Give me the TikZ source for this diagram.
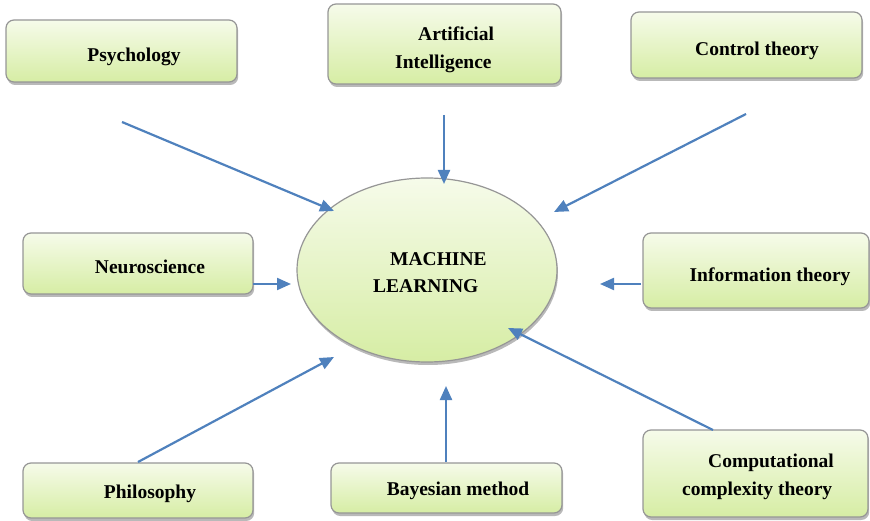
\documentclass[tikz,border=0pt]{standalone}
\usepackage{fontspec}
\setmainfont{Liberation Serif}
\usetikzlibrary{arrows.meta,shadows,shapes.geometric}
\definecolor{arrowblue}{RGB}{79,129,189}
\definecolor{boxtop}{RGB}{246,251,234}
\definecolor{boxbot}{RGB}{214,237,164}
\definecolor{boxline}{RGB}{150,150,150}
\begin{document}
\begin{tikzpicture}[x=1pt,y=-1pt,
  box/.style={draw=boxline, line width=1.2pt, rounded corners=8pt, inner sep=0pt,
    top color=boxtop, bottom color=boxbot,
    drop shadow={shadow xshift=1.2pt, shadow yshift=-3pt, fill=black!55}},
  mlshape/.style={ellipse, draw=boxline, line width=1.2pt, inner sep=0pt,
    top color=boxtop, bottom color=boxbot,
    drop shadow={shadow xshift=1pt, shadow yshift=-3pt, fill=black!55}},
  lbl/.style={font=\fontsize{19.5}{27.5}\selectfont\bfseries, align=left, inner sep=0pt},
  conn/.style={draw=arrowblue, line width=2.2pt, -{Triangle[length=14pt,width=12pt]}}]
\useasboundingbox (0,0) rectangle (870,521);
% boxes
\node[box, minimum width=231pt, minimum height=62pt] (psy) at (121.5,51) {};
\node[box, minimum width=233pt, minimum height=80pt] (ai) at (444.5,44) {};
\node[box, minimum width=231pt, minimum height=66pt] (ctl) at (746.5,45) {};
\node[box, minimum width=230pt, minimum height=61pt] (neu) at (138,263.5) {};
\node[box, minimum width=226pt, minimum height=75pt] (inf) at (756,270.5) {};
\node[box, minimum width=230pt, minimum height=55pt] (phi) at (138,490.5) {};
\node[box, minimum width=231pt, minimum height=50pt] (bay) at (446.5,488) {};
\node[box, minimum width=225pt, minimum height=87pt] (cmp) at (755.5,473.5) {};
\node[mlshape, minimum width=260pt, minimum height=184pt] (ml) at (427,270) {};
% labels
\node[lbl] (psyT) at (134,57) {Psychology};
\node[lbl, anchor=west] (aiT) at (395,50) {\hspace*{23pt}Artificial\\Intelligence};
\node[lbl] (ctlT) at (757,51) {Control theory};
\node[lbl] (neuT) at (150,267) {Neuroscience};
\node[lbl] (infT) at (770,277) {Information theory};
\node[lbl] (phiT) at (150,494) {Philosophy};
\node[lbl] (bayT) at (458,491) {Bayesian method};
\node[lbl, anchor=west] (cmpT) at (682,477) {\hspace*{26pt}Computational\\complexity theory};
\node[lbl, anchor=west] (mlT) at (373,272.5) {\hspace*{17pt}MACHINE\\LEARNING};
% connector ends
\coordinate (psyS) at (122,122);  \coordinate (psyE) at (334,211);
\coordinate (aiS) at (444,115);   \coordinate (aiE) at (444,184);
\coordinate (ctlS) at (746,114);  \coordinate (ctlE) at (554,212);
\coordinate (neuS) at (253,284);  \coordinate (neuE) at (291,284);
\coordinate (infS) at (641,284);  \coordinate (infE) at (600,284);
\coordinate (phiS) at (138,462);  \coordinate (phiE) at (334,357);
\coordinate (bayS) at (446,462);  \coordinate (bayE) at (446,386);
\coordinate (cmpS) at (713,430);  \coordinate (cmpE) at (508,328);
\draw[conn] (psyS) -- (psyE);
\draw[conn] (aiS) -- (aiE);
\draw[conn] (ctlS) -- (ctlE);
\draw[conn] (neuS) -- (neuE);
\draw[conn] (infS) -- (infE);
\draw[conn] (phiS) -- (phiE);
\draw[conn] (bayS) -- (bayE);
\draw[conn] (cmpS) -- (cmpE);
\end{tikzpicture}
\end{document}
